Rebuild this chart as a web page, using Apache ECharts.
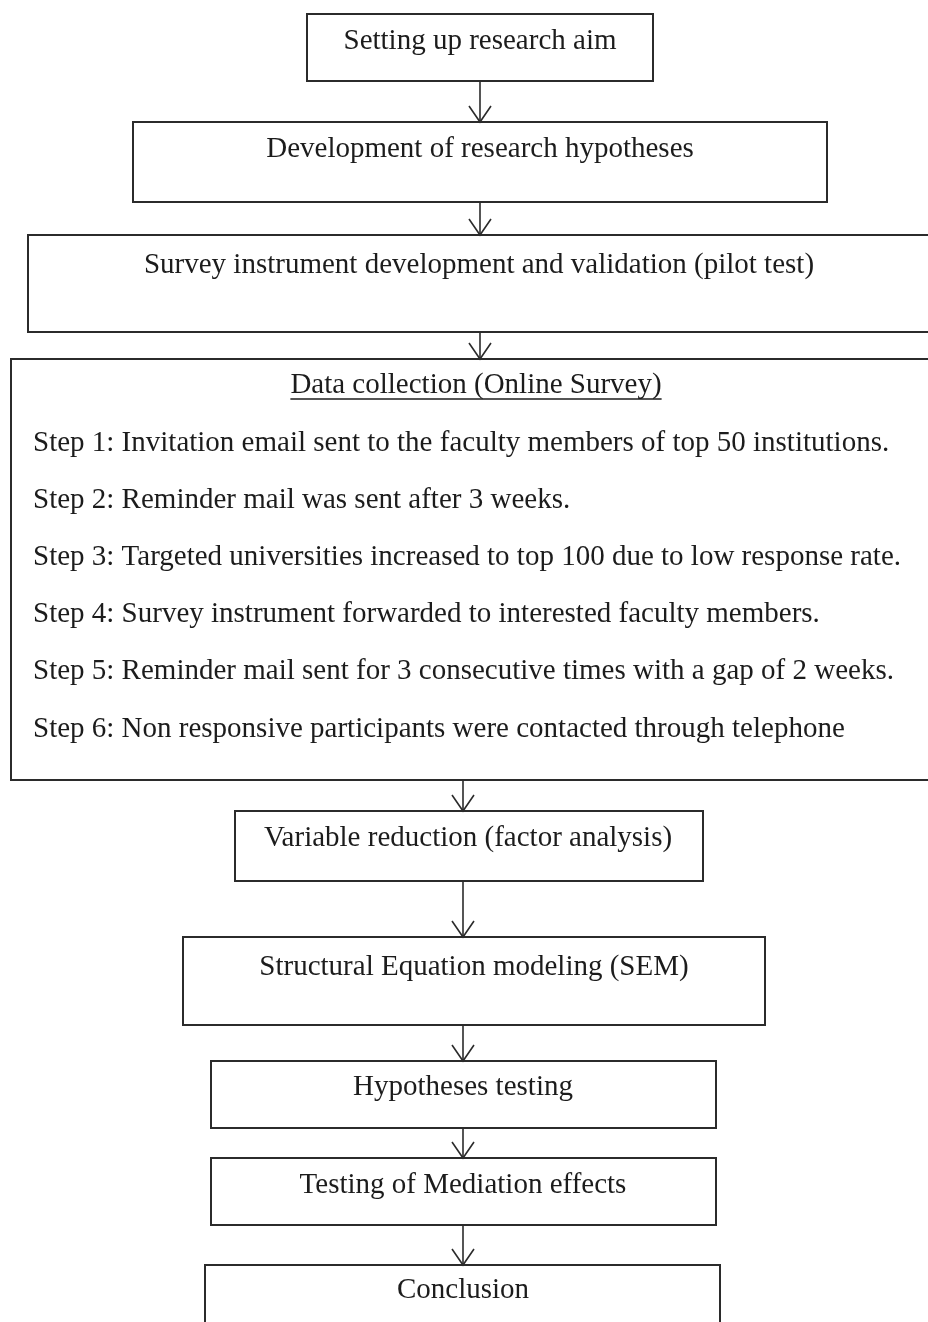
<!DOCTYPE html>
<html>
<head>
<meta charset="utf-8">
<script src="https://cdn.jsdelivr.net/npm/echarts@6/dist/echarts.min.js"></script>
<style>html,body{margin:0;padding:0;background:#fff}#c{width:928px;height:1322px}</style>
</head>
<body>
<div id="c"></div>
<script>
// ---- content ----
const boxLabels = [
  'Setting up research aim',
  'Development of research hypotheses',
  'Survey instrument development and validation (pilot test)',
  'Data collection (Online Survey)',
  'Variable reduction (factor analysis)',
  'Structural Equation modeling (SEM)',
  'Hypotheses testing',
  'Testing of Mediation effects',
  'Conclusion'
];
const dataCollectionSteps = [
  'Step 1: Invitation email sent to the faculty members of top 50 institutions.',
  'Step 2: Reminder mail was sent after 3 weeks.',
  'Step 3: Targeted universities increased to top 100 due to low response rate.',
  'Step 4: Survey instrument forwarded to interested faculty members.',
  'Step 5: Reminder mail sent for 3 consecutive times with a gap of 2 weeks.',
  'Step 6: Non responsive participants were contacted through telephone'
];
// flow links: from box index -> to box index
const flowFrom = [0, 1, 2, 3, 4, 5, 6, 7];
const flowTo   = [1, 2, 3, 4, 5, 6, 7, 8];

// ---- layout (diagram units, mapped through hidden axes) ----
const boxLayout = [ // x0, y0, x1, y1, labelX, labelY
  [307, 14, 653, 81, 480, 41],
  [133, 122, 827, 202, 480, 149],
  [28, 235, 945, 332, 479, 265],
  [11, 359, 945, 780, 476, 385],
  [235, 811, 703, 881, 468, 838],
  [183, 937, 765, 1025, 474, 967],
  [211, 1061, 716, 1128, 463, 1087],
  [211, 1158, 716, 1225, 463, 1185],
  [205, 1265, 720, 1345, 463, 1290]
];
const arrowX = [480, 480, 480, 463, 463, 463, 463, 463];
const stepLayout = { x: 33, y0: 443, dy: 57.2 };

const FONT = '"Liberation Serif", "Times New Roman", serif';
const FS = 29;
const INK = '#1c1c1c';
const LINE = '#2b2b2b';

function measure(text, size) {
  const c = document.createElement('canvas').getContext('2d');
  c.font = size + 'px ' + FONT;
  return c.measureText(text).width;
}

const chart = echarts.init(document.getElementById('c'), null, { renderer: 'canvas' });

const option = {
  animation: false,
  backgroundColor: '#fff',
  grid: { left: 0, right: 0, top: 0, bottom: 0 },
  xAxis: { type: 'value', min: 0, max: 928, show: false },
  yAxis: { type: 'value', min: 0, max: 1322, inverse: true, show: false },
  series: [
    {
      type: 'custom',
      clip: false,
      data: boxLabels.map((t, i) => [i]),
      renderItem: function (params, api) {
        const i = api.value(0);
        const L = boxLayout[i];
        const p0 = api.coord([L[0], L[1]]);
        const p1 = api.coord([L[2], L[3]]);
        const children = [{
          type: 'rect',
          shape: { x: p0[0], y: p0[1], width: p1[0] - p0[0], height: p1[1] - p0[1] },
          style: { fill: '#fff', stroke: LINE, lineWidth: 2 }
        }];
        const c = api.coord([L[4], L[5]]);
        children.push({
          type: 'text',
          style: { text: boxLabels[i], x: c[0], y: c[1], align: 'center', verticalAlign: 'middle',
            font: FS + 'px ' + FONT, fill: INK }
        });
        if (i === 3) {
          const tw = measure(boxLabels[i], FS);
          children.push({
            type: 'line',
            shape: { x1: c[0] - tw / 2, y1: c[1] + 14, x2: c[0] + tw / 2, y2: c[1] + 14 },
            style: { stroke: INK, lineWidth: 1.3 }
          });
          dataCollectionSteps.forEach(function (s, k) {
            const sp = api.coord([stepLayout.x, stepLayout.y0 + k * stepLayout.dy]);
            children.push({
              type: 'text',
              style: { text: s, x: sp[0], y: sp[1], align: 'left', verticalAlign: 'middle',
                font: FS + 'px ' + FONT, fill: INK }
            });
          });
        }
        return { type: 'group', children: children };
      }
    },
    {
      type: 'custom',
      clip: false,
      data: flowFrom.map((f, k) => [f, flowTo[k]]),
      renderItem: function (params, api) {
        const f = api.value(0), t = api.value(1);
        const k = params.dataIndex;
        const a = api.coord([arrowX[k], boxLayout[f][3]]);
        const b = api.coord([arrowX[k], boxLayout[t][1]]);
        return {
          type: 'group',
          children: [
            { type: 'line', shape: { x1: a[0], y1: a[1], x2: b[0], y2: b[1] },
              style: { stroke: LINE, lineWidth: 1.6 } },
            { type: 'polyline', shape: { points: [[b[0] - 11, b[1] - 16], [b[0], b[1]], [b[0] + 11, b[1] - 16]] },
              style: { stroke: LINE, lineWidth: 1.6, fill: null } }
          ]
        };
      }
    }
  ]
};
chart.setOption(option);
</script>
</body>
</html>
